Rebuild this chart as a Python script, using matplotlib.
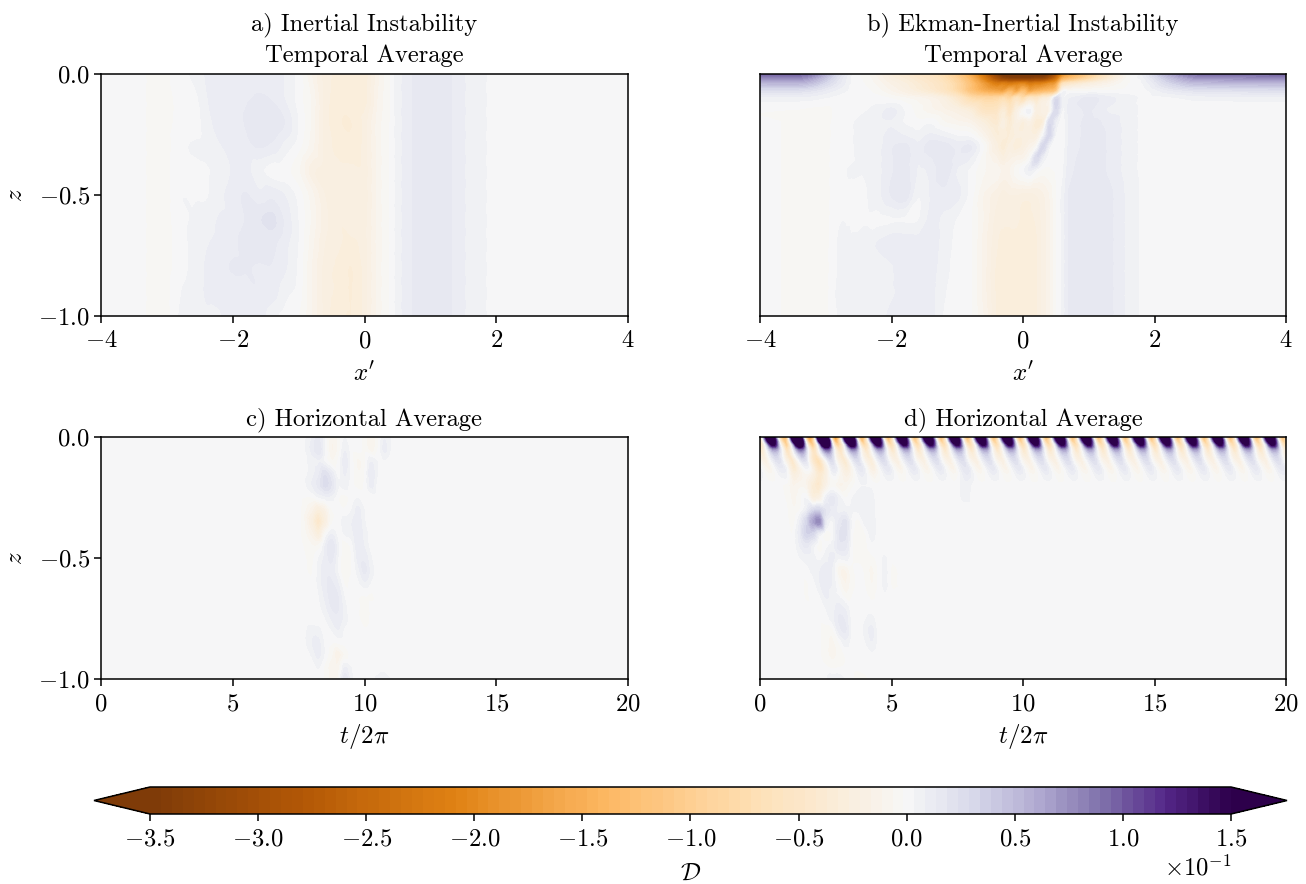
import numpy as np
import matplotlib
matplotlib.use("Agg")
import matplotlib.pyplot as plt
from matplotlib.colors import TwoSlopeNorm
from matplotlib.ticker import ScalarFormatter
from matplotlib.tri import Triangulation, CubicTriInterpolator

plt.rcParams.update({
    "font.family": "cmr10", "mathtext.fontset": "cm",
    "axes.formatter.use_mathtext": True, "axes.unicode_minus": True,
    "font.size": 17.7, "axes.linewidth": 1.1,
    "xtick.major.size": 5, "ytick.major.size": 5,
    "xtick.major.width": 1.1, "ytick.major.width": 1.1,
    "xtick.major.pad": 5, "ytick.major.pad": 3,
})

# Values are in units of 1e-3.
a_x = [-4, -3.4, -3.2, -3, -2.8, -2.6, -2.4, -2.2, -2, -1.8, -1.6, -1.4, -1.2, -1, -.8, -.6, -.4, -.2, 0, .2, .4, .5, .7, 1, 1.3, 1.6, 1.8, 1.95, 4]
a_z = [0, -.1, -.2, -.3, -.4, -.5, -.6, -.7, -.8, -.9, -1]
a_vals = [
    [0, 0, -4, -2, 0, 5, 9, 11, 12, 13, 13, 12, 8, 1, -12, -24, -28, -28, -30, -14, -1, 6, 13, 17, 14, 7, 5, 0, 0],
    [0, 0, -4, -3, 0, 1, 8, 11, 12, 13, 14, 13, 8, 1, -8, -24, -29, -28, -30, -12, -1, 6, 13, 17, 14, 7, 5, 0, 0],
    [0, 0, -4, -3, 0, 0, 6, 11, 12, 14, 18, 18, 13, 3, -8, -24, -31, -32, -25, -10, -1, 6, 13, 17, 14, 7, 5, 0, 0],
    [0, 0, -4, -3, 2, 4, 5, 8, 10, 12, 14, 12, 6, 0, -10, -24, -28, -30, -25, -10, -1, 6, 13, 17, 14, 7, 5, 0, 0],
    [0, 0, -4, -3, 3, 2, 3, 5, 9, 10, 5, 1, 0, -6, -20, -24, -26, -26, -25, -10, -1, 6, 13, 17, 14, 7, 5, 0, 0],
    [0, 0, -4, -3, 3, 3, 3, 7, 11, 14, 10, 12, 8, 1, -10, -22, -24, -26, -25, -10, -1, 6, 13, 17, 14, 7, 5, 0, 0],
    [0, 0, -4, -3, 2, 4, 6, 9, 10, 14, 18, 20, 12, 3, -8, -20, -26, -24, -24, -10, -1, 6, 13, 17, 14, 7, 5, 0, 0],
    [0, 0, -4, -3, 1, 5, 8, 10, 12, 16, 17, 15, 10, 3, -10, -22, -26, -28, -24, -10, -1, 6, 13, 17, 14, 7, 5, 0, 0],
    [0, 0, -4, -3, 1, 5, 9, 12, 14, 14, 13, 13, 9, 2, -12, -24, -28, -32, -25, -10, -1, 6, 13, 17, 14, 7, 5, 0, 0],
    [0, 0, -4, -3, 3, 6, 9, 10, 11, 12, 13, 11, 5, 1, -12, -24, -28, -32, -25, -10, -1, 6, 13, 17, 14, 7, 5, 0, 0],
    [0, 0, -4, -3, 4, 6, 8, 8, 12, 13, 11, 5, 1, -2, -12, -24, -30, -32, -25, -10, -1, 6, 13, 17, 14, 7, 5, 0, 0],
]

b_x = [-4, -3.4, -3.2, -3, -2.8, -2.6, -2.4, -2.2, -2, -1.8, -1.6, -1.4, -1.2, -1, -.8, -.6, -.4, -.3, -.2, -.1, 0, .1, .2, .3, .4, .5, .6, .7, 1, 1.3, 1.6, 1.85, 2.2, 2.6, 4]
b_z = [0, -.02, -.04, -.07, -.1, -.15, -.2, -.25, -.3, -.35, -.4, -.5, -.6, -.7, -.8, -.9, -1]
b_vals = [
    [95, 95, 82, 55, 25, 3, -4, -15, -28, -38, -48, -58, -75, -105, -160, -240, -340, -370, -370, -370, -370, -370, -370, -370, -350, -300, -210, -170, -110, -50, -6, 12, 55, 88, 95],
    [72, 72, 60, 40, 18, 2, -3, -12, -24, -32, -42, -52, -68, -95, -140, -210, -290, -320, -330, -330, -330, -330, -320, -320, -290, -240, -150, -125, -80, -36, -4, 8, 40, 66, 72],
    [50, 50, 42, 28, 14, 2, -2, -9, -18, -26, -36, -46, -60, -85, -125, -175, -220, -215, -225, -215, -205, -225, -215, -210, -190, -170, -70, -50, -28, -14, -2, 5, 28, 45, 50],
    [22, 22, 18, 12, 6, 2, 0, -5, -12, -20, -30, -40, -55, -80, -120, -150, -165, -170, -140, -165, -130, -165, -150, -140, -130, -110, -8, -4, -2, -1, 0, 2, 12, 19, 23],
    [6, 6, 5, 3, 1, 1, 2, 1, -2, -6, -10, -15, -25, -45, -75, -85, -85, -75, -85, -60, -75, -50, -55, -35, -25, 25, 5, 8, 15, 10, 6, 2, 2, 5, 6],
    [-1, -2, -3, -3, 0, 1, 3, 6, 10, 3, -4, -10, -15, -22, -32, -55, -55, -35, -55, -25, -5, 5, -25, -20, -14, 28, 3, 10, 14, 8, 6, 2, 0, 0, 0],
    [-1, -2, -3, -3, 1, 3, 6, 7, 8, 3, 0, 2, -6, -10, -14, -28, -40, -25, -38, -22, -28, -20, -35, -30, 26, 8, 1, 9, 15, 12, 6, 2, 0, 0, 0],
    [-1, -2, -3, -3, 1, 3, 7, 7, 10, 8, 5, 9, 6, 2, 0, -14, -32, -30, -32, -26, -26, -25, -26, -2, 30, 2, 0, 9, 15, 13, 6, 2, 0, 0, 0],
    [-1, -2, -3, -3, 2, 3, 7, 7, 13, 15, 10, 17, 16, 12, 14, -2, -25, -35, -25, -30, -25, -15, -5, 30, 5, 0, 0, 10, 15, 13, 6, 2, 0, 0, 0],
    [-1, -2, -3, -3, 2, 3, 5, 7, 13, 16, 9, 13, 17, 11, 8, -5, -16, -25, -18, -14, -12, -2, 28, 8, 0, 0, 1, 11, 16, 13, 6, 2, 0, 0, 0],
    [-1, -2, -3, -3, 2, 4, 4, 7, 13, 16, 8, 10, 17, 8, 2, -6, -8, -14, -12, -4, 2, 8, 1, -4, -3, -1, 2, 12, 16, 13, 6, 2, 0, 0, 0],
    [-1, -2, -3, -3, 2, 2, 3, 7, 14, 17, 4, 9, 12, 10, 1, -12, -20, -24, -22, -22, -24, -24, -22, -18, -12, -2, 5, 14, 16, 15, 7, 2, 0, 0, 0],
    [-1, -2, -3, -3, 3, 3, 3, 2, 3, 3, 3, 10, 7, 3, -1, -12, -24, -26, -26, -26, -28, -28, -26, -20, -14, -2, 5, 14, 16, 15, 7, 2, 0, 0, 0],
    [-1, -2, -3, -3, 4, 4, 6, 9, 12, 12, 11, 12, 6, 2, -1, -14, -26, -28, -28, -28, -30, -30, -28, -20, -14, -2, 5, 14, 16, 15, 7, 2, 0, 0, 0],
    [-1, -2, -3, -3, 4, 5, 4, 5, 8, 12, 13, 11, 5, 2, -1, -14, -28, -30, -30, -30, -30, -30, -28, -20, -14, -2, 5, 14, 16, 15, 7, 2, 0, 0, 0],
    [-1, -2, -3, -3, 5, 6, 6, 7, 8, 10, 12, 10, 4, 2, -1, -14, -28, -30, -30, -30, -30, -30, -28, -20, -14, -2, 5, 14, 16, 15, 7, 2, 0, 0, 0],
    [-1, -2, -3, -3, 4, 6, 4, 6, 10, 12, 12, 10, 3, 3, -1, -12, -28, -30, -30, -30, -30, -30, -28, -20, -14, -2, 5, 14, 16, 15, 7, 2, 0, 0, 0],
]

c_t = [0, 7.2, 7.6, 8, 8.25, 8.5, 8.75, 9, 9.25, 9.5, 9.75, 10, 10.25, 10.5, 10.75, 11, 11.5, 12.5, 20]
c_z = [0, -.05, -.1, -.15, -.2, -.25, -.3, -.35, -.4, -.45, -.5, -.55, -.6, -.65, -.7, -.75, -.8, -.85, -.9, -.95, -1]
c_vals = [
    [0, 0, 0, 8, 14, 3, -10, -6, 3, 0, 0, -4, -12, -4, 8, 3, 0, 0, 0],
    [0, 0, 0, 10, 18, 3, -12, -6, 8, 0, 0, -3, -10, -2, 10, 3, 0, 0, 0],
    [0, 0, 0, 6, 8, 2, -6, -1, 11, 1, -8, -3, 8, 3, 3, -1, 0, 0, 0],
    [0, 0, 0, 6, 12, 22, 12, 1, 9, 1, -6, -2, 12, 3, 0, -1, 0, 0, 0],
    [0, 0, 0, 8, 15, 25, 18, 4, 6, 0, -3, -1, 10, 1, 0, -1, 0, 0, 0],
    [0, 0, -1, -2, 3, 6, 6, -1, -3, 0, 3, 0, 0, 0, 0, -1, 0, 0, 0],
    [0, 0, -2, -15, -28, -18, -2, 0, -1, 3, 10, 3, 0, 0, 0, -1, 0, 0, 0],
    [0, 0, -2, -25, -45, -25, -3, 0, 6, 8, 12, 4, 0, 0, 0, -1, 0, 0, 0],
    [0, 0, -2, -15, -28, -4, 8, 1, 4, 6, 12, 6, 1, 0, 0, -1, 0, 0, 0],
    [0, 0, -1, -6, -6, 8, 18, 4, -5, 0, 12, 8, 1, 0, 0, -1, 0, 0, 0],
    [0, 0, 0, -3, 3, 10, 15, 3, -6, -2, 10, 12, 4, 0, 0, -1, 0, 0, 0],
    [0, 0, 0, -2, 5, 12, 12, 2, -6, -2, 6, 15, 6, 0, 0, -1, 0, 0, 0],
    [0, 0, 0, -1, 5, 12, 14, 8, -3, 0, 2, 8, 3, 0, 0, -1, 0, 0, 0],
    [0, 0, 0, 0, 3, 10, 16, 13, 2, 0, -1, -1, -2, 0, 0, -1, 0, 0, 0],
    [0, 0, 0, 0, 2, 7, 14, 14, 5, 0, -1, -4, -1, 0, 0, -1, 0, 0, 0],
    [0, 0, 0, 0, 1, 3, 9, 12, 6, 0, -1, -4, -1, 0, 0, -1, -1, 0, 0],
    [0, 0, 0, 6, 5, 1, 3, 8, 2, 0, 0, -1, 0, 0, -1, -1, -1, 0, 0],
    [0, 0, 0, 8, 10, 2, -1, -1, 0, 0, 0, 0, 0, 0, -1, -1, -1, 0, 0],
    [0, 0, 0, 4, 10, 2, -6, -16, -6, 0, 0, 0, 0, 0, -1, 0, -1, 0, 0],
    [0, 0, 0, 0, 4, -3, -10, -10, 8, 3, 0, 0, 0, 0, 0, 0, 0, 0, 0],
    [0, 0, 0, 0, 1, -3, -8, -6, 18, 5, 0, 0, 1, 5, 8, 3, 0, 1, 0],
]

# Panel d: one surface streak sampled across a period, at each depth, and its strength per period.
d_phase_z = [0, -.015, -.03, -.05, -.07, -.1, -.13, -.16, -.2]
d_phase_vals = [
    [-90, 40, 170, 230, 180, 40, -80, -130],
    [-75, -5, 110, 200, 190, 100, -30, -100],
    [-75, -35, 30, 120, 160, 110, 10, -60],
    [-50, -35, 0, 40, 70, 65, 25, -20],
    [-30, -32, -10, 12, 32, 38, 20, -8],
    [-10, -18, -20, -6, 8, 20, 22, 6],
    [6, -5, -12, -13, -4, 5, 13, 15],
    [6, 2, -3, -5, -4, 0, 4, 7],
    [0, 0, 0, 0, 0, 0, 0, 0],
]
d_streak_strength = [1.0, 1.35, 1.45, 1.2, 1.05, 1, 1, 1, 1, 1, 1, 1, 1, 1, 1, 1, 1, 1, 1, 1]

d_t = [0, .5, 1, 1.25, 1.5, 1.75, 2, 2.25, 2.5, 2.75, 3, 3.25, 3.5, 3.75, 4, 4.25, 4.5, 4.75, 5, 5.5, 7.4, 7.8, 8.2, 20]
d_z = [0, -.06, -.1, -.15, -.2, -.25, -.3, -.35, -.4, -.45, -.5, -.55, -.6, -.65, -.7, -.75, -.8, -.85, -.9, -.95, -1]
d_vals = [
    [0, 0, 0, 0, 0, 0, 0, 0, 0, 0, 0, 0, 0, 0, 0, 0, 0, 0, 0, 0, 0, 0, 0, 0],
    [0, 0, 0, 0, 0, 0, 0, 0, 0, 0, 0, 0, 0, 0, 0, 0, 0, 0, 0, 0, 0, 0, 0, 0],
    [0, 0, -5, -18, -10, -12, -28, -38, -20, -8, -10, -15, -5, -3, -4, -10, -1, 0, 0, 0, 0, 0, 0, 0],
    [0, 0, -4, -20, -12, -15, -30, -35, -18, -5, -14, -15, -5, 0, -2, -8, -1, 0, 0, 0, 0, 5, 0, 0],
    [0, 0, -3, -12, -8, -12, -34, -42, -18, -4, -12, -10, -3, 2, 3, 2, 0, 0, 0, 0, 0, 6, 0, 0],
    [0, 0, -2, -8, -4, 2, -25, -22, 6, 15, 6, -2, 3, 6, 8, 5, 0, 0, 0, 0, 0, 5, 0, 0],
    [0, 0, -1, -6, -2, 8, 25, 30, 18, 12, 6, 6, 4, 5, 8, 6, 0, 0, 0, 0, 0, 0, 0, 0],
    [0, 0, 0, -4, 8, 30, 60, 75, 12, 3, 14, 20, 2, -3, 6, 8, 0, 0, 0, 0, 0, 0, 0, 0],
    [0, 0, 0, -1, 12, 32, 30, 8, -5, 0, 18, 20, 0, -6, -2, 6, 0, 0, 0, 0, 0, 0, 0, 0],
    [0, 0, 0, 0, 8, 15, 6, -4, 2, 6, 16, 15, -1, -4, -3, 2, 0, 0, 0, 0, 0, 0, 0, 0],
    [0, 0, 0, 0, 3, 6, 5, 2, 6, 10, 4, 6, -1, -3, -2, -3, 0, 4, -1, 0, 0, 0, 0, 0],
    [0, 0, 0, 0, 0, 1, 5, 8, 12, 8, -10, -12, -3, 0, -3, -8, -1, 5, -2, 0, 0, 0, 0, 0],
    [0, 0, 0, 0, 0, -2, 1, 8, 12, 8, -4, -12, -4, 0, -2, -7, -1, 5, -2, 0, 0, 0, 0, 0],
    [0, 0, 0, 0, 0, -2, 0, 3, 10, 5, 2, -6, -2, 0, -1, -3, 0, 3, -1, 0, 0, 0, 0, 0],
    [0, 0, 0, 0, 0, -1, -1, 0, 4, 6, 10, 6, 0, 0, 0, 0, 0, 0, 0, 0, 0, 0, 0, 0],
    [0, 0, 0, 0, 0, 0, -1, -1, 1, 6, 14, 12, 1, 0, 3, 5, 0, 0, 0, 0, 0, 0, 0, 0],
    [0, 0, 0, 0, 0, 0, -1, -1, -4, -4, 10, 14, 1, 0, 5, 10, 1, 0, 0, 0, 0, 0, 0, 0],
    [0, 0, 0, 0, 0, 0, 0, -1, -5, -8, -2, 6, 0, 0, 3, 8, 1, 0, 0, 0, 0, 0, 0, 0],
    [0, 0, 0, 0, 0, 0, 0, -1, -5, -8, -5, -1, 0, 0, 0, 2, -1, -1, 0, 0, 0, 0, 0, 0],
    [0, 0, 0, 0, 0, 0, 0, 0, -1, -3, -2, -1, -1, -1, -1, -1, -1, 0, 0, 0, 0, 0, 0, 0],
    [0, 0, 0, 0, 0, 0, 0, 0, 3, 8, 8, 3, -1, -3, -2, -1, -1, 0, 0, 0, 0, 0, 0, 0],
]

titles = ["a) Inertial Instability\nTemporal Average", "b) Ekman-Inertial Instability\nTemporal Average",
          "c) Horizontal Average", "d) Horizontal Average"]
x_ticks = [-4, -2, 0, 2, 4]
t_ticks = [0, 5, 10, 15, 20]
z_ticks = [0, -.5, -1]
cbar_ticks = [-.35, -.30, -.25, -.20, -.15, -.10, -.05, 0, .05, .10, .15]


def resample(xn, zn, vals, xr, zr, flip=False):
    """Smooth a hand-read grid onto a plotting raster with matplotlib's cubic tri-interpolator."""
    vals = np.asarray(vals, float) * 1e-3
    ny, nx = vals.shape
    ii, jj = np.meshgrid(np.arange(nx), np.arange(ny))
    q = (ii[:-1, :-1] + nx * jj[:-1, :-1]).ravel()
    if flip:
        tris = np.vstack([np.c_[q, q + 1, q + nx], np.c_[q + 1, q + nx + 1, q + nx]])
    else:
        tris = np.vstack([np.c_[q, q + 1, q + nx + 1], np.c_[q, q + nx + 1, q + nx]])
    tri = Triangulation(ii.ravel().astype(float), jj.ravel().astype(float), tris)
    f = CubicTriInterpolator(tri, vals.ravel(), kind="geom")
    ix = np.clip(np.interp(xr, xn, np.arange(nx)), 1e-6, nx - 1 - 1e-6)
    iz = np.clip(np.interp(-zr, -np.asarray(zn, float), np.arange(ny)), 1e-6, ny - 1 - 1e-6)
    X, Z = np.meshgrid(ix, iz)
    return np.ma.filled(f(X, Z), 0.0)


x_r = np.linspace(-4, 4, 527)
t_r = np.linspace(0, 20, 527)
z_r = np.linspace(0, -1, 243)

F_a = resample(a_x, a_z, a_vals, x_r, z_r)
F_b = resample(b_x, b_z, b_vals, x_r, z_r, flip=True)
F_c = resample(c_t, c_z, c_vals, t_r, z_r)
phase = np.asarray(d_phase_vals, float)
streaks = np.hstack([s * phase for s in d_streak_strength] + [phase[:, :1]])
streak_t = np.linspace(0, len(d_streak_strength), streaks.shape[1])
F_d = resample(streak_t, d_phase_z, streaks, t_r, z_r) + resample(d_t, d_z, d_vals, t_r, z_r)

W, H = 1306, 884
fig = plt.figure(figsize=(W / 100, H / 100), dpi=100)


def rect(x0, y0, x1, y1):
    return [x0 / W, 1 - y1 / H, (x1 - x0) / W, (y1 - y0) / H]


axes = [fig.add_axes(rect(101, 74, 628, 316)), fig.add_axes(rect(760, 74, 1286, 316)),
        fig.add_axes(rect(101, 437, 628, 679)), fig.add_axes(rect(760, 437, 1286, 679))]
levels = np.linspace(-.35, .15, 100)
norm = TwoSlopeNorm(vmin=-.35, vcenter=0, vmax=.15)
fields = [(x_r, F_a), (x_r, F_b), (t_r, F_c), (t_r, F_d)]
for i, (ax, (xr, F)) in enumerate(zip(axes, fields)):
    cf = ax.contourf(xr, z_r, F, levels=levels, cmap="PuOr", norm=norm, extend="both")
    ax.set_title(titles[i], fontsize=17.7, pad=8.5, linespacing=1.42)
    ax.set_ylim(-1, 0)
    if i < 2:
        ax.set_xlim(-4, 4)
        ax.set_xticks(x_ticks)
        ax.set_xlabel(r"$x'$", fontsize=18, labelpad=7)
    else:
        ax.set_xlim(0, 20)
        ax.set_xticks(t_ticks)
        ax.set_xlabel(r"$t/2\pi$", fontsize=18, labelpad=5)
    ax.set_yticks(z_ticks)
    if i % 2 == 0:
        ax.set_ylabel(r"$z$", fontsize=18, labelpad=8)
    else:
        ax.tick_params(left=False, labelleft=False)

cax = fig.add_axes(rect(94, 787, 1287, 814))
fmt = ScalarFormatter(useMathText=True)
fmt.set_powerlimits((0, 0))
cb = fig.colorbar(cf, cax=cax, orientation="horizontal", extend="both", extendfrac=56 / 1081,
                  spacing="proportional", ticks=cbar_ticks, format=fmt)
cb.set_label(r"$\mathcal{D}$", fontsize=18, labelpad=9)
cb.ax.xaxis.get_offset_text().set_fontsize(17.7)
fig.savefig("out.png", dpi=100)
